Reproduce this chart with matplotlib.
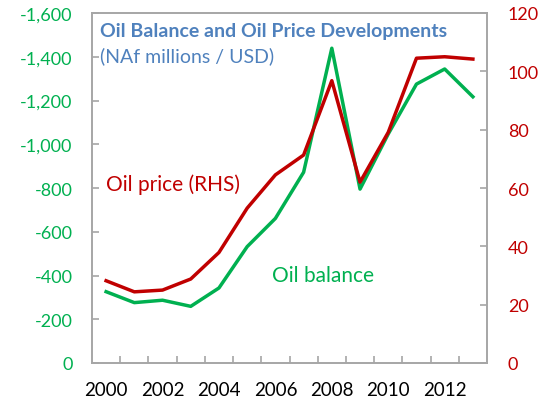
import matplotlib
matplotlib.use("Agg")
import matplotlib.pyplot as plt
import numpy as np
from matplotlib.ticker import FuncFormatter, FixedLocator

years = [2000, 2001, 2002, 2003, 2004, 2005, 2006, 2007, 2008, 2009, 2010, 2011, 2012, 2013]
oil_balance = [-326, -276, -287, -259, -343, -532, -661, -872, -1439, -795, -1047, -1275, -1344, -1217]
oil_price = [28.2, 24.4, 25.0, 28.8, 37.9, 53.1, 64.5, 71.3, 96.8, 62.0, 79.1, 104.5, 105.0, 104.2]
left_ticks = [0, -200, -400, -600, -800, -1000, -1200, -1400, -1600]
right_ticks = [0, 20, 40, 60, 80, 100, 120]

GREEN = "#00B050"
RED = "#C00000"
BLUE = "#4F81BD"
GRAY = "#A6A6A6"

plt.rcParams['font.family'] = ['Lato', 'DejaVu Sans']

fig = plt.figure(figsize=(5.48, 4.06), dpi=100)
ax = fig.add_axes([92/548, 1-364/406, (487-92)/548, (364-14)/406])
ax2 = ax.twinx()

x = np.arange(len(years))
ax.plot(x, oil_balance, color=GREEN, lw=2.5, zorder=3)
ax2.plot(x, oil_price, color=RED, lw=2.5, zorder=3)

ax.set_xlim(-0.5, len(years) - 0.5)
ax.set_ylim(0, -1600)
ax2.set_ylim(0, 120)

ax.set_yticks(left_ticks)
ax.yaxis.set_major_formatter(FuncFormatter(lambda v, p: f"{int(v):,}"))
ax2.set_yticks(right_ticks)

ax.set_xticks(x[::2])
ax.set_xticklabels([str(y) for y in years[::2]])
ax.xaxis.set_minor_locator(FixedLocator(np.arange(0.5, len(years) - 0.5, 1)))

for a in (ax, ax2):
    for s in a.spines.values():
        s.set_color(GRAY)
        s.set_linewidth(1.2)

ax.tick_params(axis='x', which='major', length=0, pad=13, labelsize=13.5, labelcolor='black')
ax.tick_params(axis='x', which='minor', direction='in', length=5, color=GRAY, width=1.2)
ax.tick_params(axis='y', direction='in', length=5, color=GRAY, width=1.2, labelcolor=GREEN, labelsize=13, pad=14)
ax2.tick_params(axis='y', direction='in', length=5, color=GRAY, width=1.2, labelcolor=RED, labelsize=13, pad=15)

fig.text(100/548, 1-32/406, "Oil Balance and Oil Price Developments", color=BLUE,
         fontsize=14, fontweight='bold', va='center', ha='left')
fig.text(100/548, 1-56/406, "(NAf millions / USD)", color=BLUE,
         fontsize=14, va='center', ha='left')
fig.text(106/548, 1-185/406, "Oil price (RHS)", color=RED, fontsize=15, va='center', ha='left')
fig.text(272/548, 1-276/406, "Oil balance", color=GREEN, fontsize=15, va='center', ha='left')

fig.savefig("out.png", dpi=100)
